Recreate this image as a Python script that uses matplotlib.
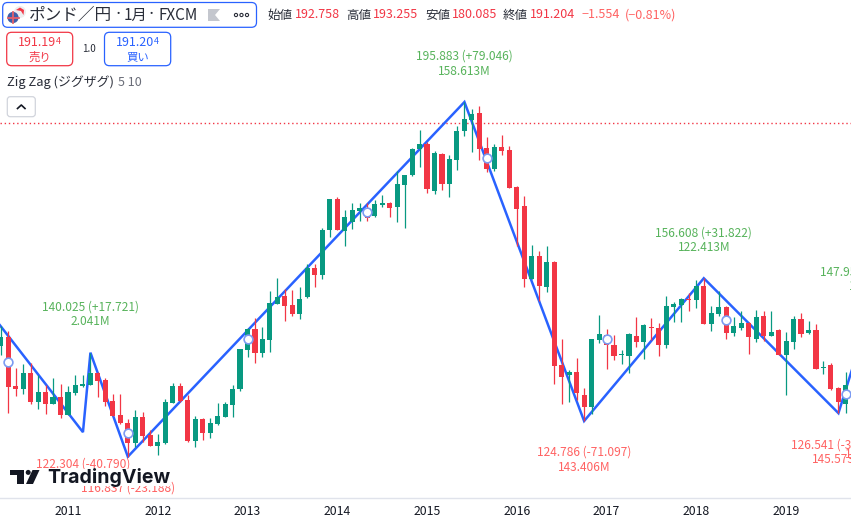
import matplotlib
matplotlib.use('Agg')
import matplotlib.pyplot as plt
from matplotlib.patches import FancyBboxPatch, Polygon, Circle, Rectangle

plt.rcParams['font.family'] = ['Noto Sans CJK JP', 'DejaVu Sans']

# months counted from 2011-01, first visible candle is 2010-04
first_month = -9
opens = [141.5, 143.58, 132.58, 131.99, 135.41, 129.09, 131.25, 128.57, 130.21, 126.2,
         131.1, 132.58, 132.88, 135.41, 133.92, 129.17, 126.05, 124.27, 119.96, 125.68,
         121.66, 119.29, 119.96, 128.87, 132.58, 129.47, 120.33, 125.16, 122.18, 124.12,
         125.75, 128.42, 131.84, 140.61, 145.29, 140.01, 142.84, 150.79, 152.64, 150.64,
         148.63, 152.42, 158.88, 157.32, 167.35, 174.26, 167.2, 169.14, 171.59, 172.18,
         170.55, 172.92, 173.37, 172.48, 177.38, 179.61, 185.41, 186.52, 176.04, 184.29,
         177.6, 182.95, 189.42, 191.87, 193.43, 185.63, 180.95, 185.85, 185.18, 176.94,
         172.7, 156.43, 161.56, 154.72, 160.22, 137.27, 135.04, 135.7, 130.58, 127.9,
         142.84, 143.95, 141.72, 139.57, 139.27, 143.73, 142.39, 145.81, 145.51, 141.73,
         150.2, 150.64, 151.98, 151.76, 154.88, 146.41, 148.64, 150.2, 144.4, 145.51,
         146.63, 143.06, 148.19, 143.73, 145.07, 139.5, 142.39, 147.52, 144.4, 145.07,
         136.53, 137.27, 132.14, 128.58]
highs = [146.0, 144.84, 136.52, 137.49, 137.64, 135.04, 132.81, 134.27, 133.03, 132.58,
         135.11, 135.11, 140.03, 135.78, 134.27, 130.8, 130.8, 125.16, 127.24, 126.86,
         122.78, 121.89, 129.61, 133.33, 133.18, 130.58, 125.9, 125.38, 125.38, 128.72,
         129.09, 132.81, 140.76, 145.44, 147.67, 145.66, 153.76, 156.73, 154.13, 153.98,
         154.65, 159.7, 159.77, 167.72, 174.26, 174.71, 171.81, 173.37, 173.3, 173.37,
         174.04, 175.15, 173.59, 180.5, 179.61, 185.7, 189.64, 187.04, 184.96, 184.44,
         184.07, 190.53, 195.88, 194.32, 194.99, 188.08, 186.52, 188.53, 186.07, 177.16,
         174.93, 164.01, 162.67, 163.79, 160.44, 143.06, 136.15, 138.82, 132.06, 143.06,
         148.41, 145.29, 143.95, 140.61, 144.4, 147.96, 146.4, 147.74, 146.55, 152.65,
         151.38, 152.13, 153.24, 156.21, 156.61, 150.42, 153.76, 150.42, 147.97, 149.3,
         146.93, 149.53, 149.3, 149.3, 145.29, 144.62, 148.19, 148.93, 147.07, 146.41,
         138.16, 137.71, 132.37, 135.71]
lows = [139.5, 126.64, 130.36, 130.8, 128.57, 127.46, 126.34, 128.57, 125.53, 126.05,
        130.58, 132.4, 132.88, 130.21, 128.13, 125.9, 124.12, 116.84, 119.06, 120.18,
        119.21, 117.21, 119.66, 128.72, 129.09, 120.18, 118.92, 120.55, 120.92, 123.89,
        125.6, 125.75, 131.55, 139.12, 137.78, 139.12, 140.24, 150.79, 147.07, 148.26,
        147.52, 152.27, 154.65, 156.43, 165.87, 167.35, 163.86, 167.58, 169.36, 169.36,
        170.32, 172.55, 170.25, 169.21, 167.87, 179.46, 181.39, 175.6, 175.38, 176.27,
        174.71, 180.72, 188.3, 184.74, 182.95, 180.28, 180.5, 184.07, 176.71, 163.79,
        154.65, 156.43, 151.53, 153.61, 133.03, 128.57, 129.02, 129.46, 124.79, 126.34,
        142.17, 136.37, 138.38, 137.49, 135.48, 141.28, 138.6, 142.84, 139.27, 141.06,
        146.85, 146.85, 149.3, 149.9, 146.41, 144.85, 148.19, 143.06, 143.73, 145.07,
        139.72, 142.47, 142.62, 143.73, 139.5, 130.58, 140.83, 143.51, 144.18, 136.38,
        135.26, 131.7, 126.54, 126.57]
closes = [143.58, 132.44, 131.99, 135.41, 129.09, 131.25, 128.57, 130.21, 126.2, 131.25,
          132.81, 133.03, 135.41, 133.7, 129.09, 125.9, 124.27, 119.96, 125.68, 121.52,
          119.21, 120.03, 129.02, 132.58, 129.32, 120.4, 125.16, 122.04, 124.27, 125.9,
          128.5, 131.84, 140.76, 145.29, 140.01, 143.06, 151.01, 152.42, 150.49, 148.63,
          151.97, 158.96, 157.32, 167.35, 174.26, 167.35, 170.25, 171.81, 172.26, 170.1,
          173.15, 173.37, 172.26, 177.6, 179.61, 185.41, 186.52, 176.49, 184.51, 177.6,
          183.18, 189.42, 192.09, 193.21, 185.41, 180.95, 185.85, 184.96, 176.71, 172.03,
          156.43, 161.56, 154.87, 160.22, 137.04, 134.59, 135.7, 131.02, 127.9, 143.06,
          144.17, 141.72, 139.27, 139.79, 144.17, 142.39, 146.18, 145.59, 141.73, 150.42,
          150.86, 151.98, 151.76, 154.88, 146.41, 148.86, 150.2, 144.4, 145.96, 146.63,
          143.51, 147.97, 143.73, 144.62, 139.5, 142.62, 147.52, 144.18, 145.07, 136.38,
          136.82, 131.92, 129.02, 132.81]

# zig zag pivots
zz_months = [-17, 2, 3, 8, 53, 69, 85, 103, 107]
zz_prices = [163.094, 122.304, 140.025, 116.837, 195.883, 124.786, 156.608, 126.541, 147.952]

# the small rings on the line, one every 16 months
ring_months = [-8, 8, 24, 40, 56, 72, 88, 104]
ring_prices = [138.0, 122.2, 143.0, 171.3, 183.3, 143.0, 147.2, 130.7]

# pivot labels
hi_months = [3, 53, 85, 107]
hi_prices = [140.025, 195.883, 156.608, 147.952]
hi_text = ['140.025 (+17.721)', '195.883 (+79.046)', '156.608 (+31.822)', '147.952 (+21.411)']
hi_vol = ['2.041M', '158.613M', '122.413M', '1']
lo_months = [2, 8, 69, 103]
lo_prices = [122.304, 116.837, 124.786, 126.541]
lo_text = ['122.304 (-40.790)', '116.837 (-23.188)', '124.786 (-71.097)', '126.541 (-30.067)']
lo_vol = ['', '', '143.406M', '145.573M']

year_months = [0, 12, 24, 36, 48, 60, 72, 84, 96]
year_labels = ['2011', '2012', '2013', '2014', '2015', '2016', '2017', '2018', '2019']
last_close = 191.204

W, H = 851, 521
GREEN = '#089981'
RED = '#F23645'
BLUE = '#2962FF'
LBL_GREEN = '#57B35B'
LBL_RED = '#FF6262'
DARK = '#131722'
GREY = '#6A6D78'

fig = plt.figure(figsize=(W / 100, H / 100), dpi=100)
ax = fig.add_axes([0, (H - 498) / H, 1, 498 / H])
ax.set_xlim(-9.09, 104.68)
ax.set_ylim(107.63, 218.62)

# zig zag goes under the candles
ax.plot(zz_months, zz_prices, color=BLUE, lw=1.8, zorder=2, solid_joinstyle='miter')
ax.axhline(last_close, color=RED, lw=1.0, ls=(0, (1, 2)), zorder=1)

for i in range(len(opens)):
    m = first_month + i
    c = GREEN if closes[i] >= opens[i] else RED
    ax.vlines(m, lows[i], highs[i], color=c, lw=0.9, zorder=3)
    ax.bar(m, abs(closes[i] - opens[i]), bottom=min(opens[i], closes[i]), width=0.68,
           color=c, lw=0, zorder=4)

ax.plot(ring_months, ring_prices, ls='', marker='o', ms=6.3, mfc='white', mec='#7C9BF2',
        mew=1.2, zorder=5)


def pivot_label(month, price, text, offset, color):
    ax.annotate(text, (month, price), xytext=(0, offset * 0.72), textcoords='offset points',
                ha='center', va='center', fontsize=8.6, color=color, zorder=6,
                annotation_clip=False, clip_on=True)


for i in range(len(hi_months)):
    pivot_label(hi_months[i], hi_prices[i], hi_text[i], 45.5, LBL_GREEN)
    if i < 3:
        pivot_label(hi_months[i], hi_prices[i], hi_vol[i], 31, LBL_GREEN)
for i in range(len(lo_months)):
    pivot_label(lo_months[i], lo_prices[i], lo_text[i], -31.5, LBL_RED)
    if lo_vol[i]:
        pivot_label(lo_months[i], lo_prices[i], lo_vol[i], -46, LBL_RED)

ax.set_xticks(year_months, year_labels)
ax.set_yticks([])
ax.tick_params(axis='x', length=0, pad=5, labelsize=8.8, labelcolor=DARK)
for s in ['top', 'left', 'right']:
    ax.spines[s].set_visible(False)
ax.spines['bottom'].set_color('#E0E3EB')
ax.spines['bottom'].set_linewidth(1)

# overlay in pixel coordinates for the header and the logo
ov = fig.add_axes([0, 0, 1, 1])
ov.set_xlim(0, W)
ov.set_ylim(H, 0)
ov.axis('off')
ov.patch.set_alpha(0)


def box(x0, y0, x1, y1, edge, r=5):
    ov.add_patch(FancyBboxPatch((x0, y0), x1 - x0, y1 - y0, boxstyle=f'round,pad=0,rounding_size={r}',
                                fc='white', ec=edge, lw=0.9))


def label(x, y, s, size=9.0, color=DARK, ha='left', **kw):
    return ov.text(x, y, s, fontsize=size, color=color, ha=ha, va='center', **kw)


# title box
box(2.7, 2.5, 256.5, 27.3, BLUE)
ov.add_patch(Circle((20, 12), 6, fc='#EDEDEF', ec='none'))
ov.add_patch(Polygon([(16, 10), (20, 7.5), (24, 10), (23.5, 15), (21, 11)], fc=RED, ec='none'))
ov.add_patch(Circle((13, 17.5), 5.6, fc='#3F5FA8', ec='none'))
ov.plot([7.5, 18.5], [17.5, 17.5], color='#E5606A', lw=1.3)
ov.plot([13, 13], [12, 23], color='#E5606A', lw=1.3)
label(29, 15, 'ポンド／円', size=12.0, color='#2A2E39')
label(118, 15, '·', size=12.0, color='#2A2E39', ha='center')
label(124, 15, '1月', size=11.0, color='#2A2E39')
label(151, 15, '·', size=12.0, color='#2A2E39', ha='center')
label(158, 15, 'FXCM', size=11.0, color='#2A2E39')
ov.add_patch(Polygon([(208, 9), (220, 9), (215, 15), (220, 21), (208, 21)], fc='#C4C7CE', ec='none'))
for x in [236, 241.5, 247]:
    ov.add_patch(Circle((x, 15), 1.6, fc='white', ec='#2A2E39', lw=0.8))

# OHLC row
label(267, 15, '始値', color='#2A2E39')
label(295, 15, '192.758', color=RED)
label(346, 15, '高値', color='#2A2E39')
label(373, 15, '193.255', color=RED)
label(425, 15, '安値', color='#2A2E39')
label(452, 15, '180.085', color=RED)
label(503, 15, '終値', color='#2A2E39')
label(530, 15, '191.204', color=RED)
label(582, 15, '−1.554', color=LBL_RED)
label(625, 15, '(−0.81%)', color=LBL_RED)

# sell and buy buttons
box(6.7, 32.3, 72.7, 65.7, RED)
label(18, 42.5, '191.19', size=9.0, color=RED)
label(56, 41.5, '4', size=6.5, color=RED)
label(39.5, 57, '売り', size=8.2, color=RED, ha='center')
label(89, 49.5, '1.0', size=7.0, color='#2A2E39', ha='center')
box(104.5, 32.3, 170.7, 65.7, BLUE)
label(115.5, 42.5, '191.20', size=9.0, color=BLUE)
label(153.5, 41.5, '4', size=6.5, color=BLUE)
label(137.5, 57, '買い', size=8.2, color=BLUE, ha='center')

# indicator row
label(7, 82, 'Zig Zag (ジグザグ)', size=9.3, color='#2A2E39')
label(118, 82, '5 10', size=9.0, color=GREY)
box(7.3, 96.7, 35.3, 116.7, '#D1D4DC', r=3)
ov.plot([17.5, 21.3, 25], [108.5, 105, 108.5], color=DARK, lw=1.2)

# logo with its white backing
ov.add_patch(Rectangle((8, 468.5), 162, 17, fc='white', ec='none'))
ov.add_patch(Polygon([(10, 470), (24, 470), (24, 484), (16.7, 484), (16.7, 475), (10, 475)],
                     fc=DARK, ec='none'))
ov.add_patch(Circle((28.2, 472.4), 2.5, fc=DARK, ec='none'))
ov.add_patch(Polygon([(32.5, 470), (39.5, 470), (33, 484), (26, 484)], fc=DARK, ec='none'))
label(47.5, 477.5, 'TradingView', size=14.1, color=DARK, family='Inter', weight='bold')

# tail of the next label, cut off by the right edge
label(845, 454, '1', size=8.6, color=LBL_RED)
label(848.5, 287, '1', size=8.6, color=LBL_GREEN)

fig.savefig('out.png', dpi=100)
